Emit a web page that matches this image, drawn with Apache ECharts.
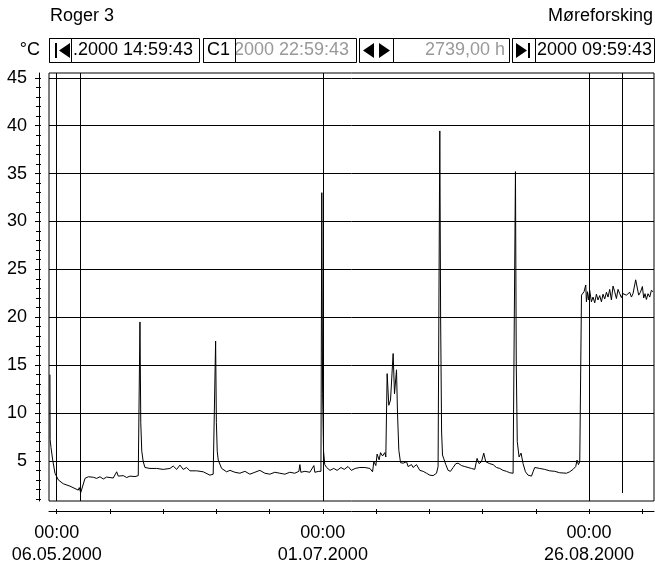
<!DOCTYPE html>
<html><head><meta charset="utf-8">
<script src="https://cdn.jsdelivr.net/npm/echarts@6/dist/echarts.min.js"></script>
<style>html,body{margin:0;padding:0;background:#fff}#c{width:655px;height:567px}</style>
</head><body><div id="c"></div>
<script>
// x values: days since 06.05.2000 00:00 ; y values: temperature in °C
const days = [
  -1.42, -1.38, -1.20, -0.84, -0.36, 0.34, 1.39, 2.80, 3.85, 4.54,
  4.75, 5.05, 5.26, 5.95, 6.65, 7.70, 8.41, 9.11, 9.80, 10.5,
  11.21, 11.90, 12.62, 12.95, 14.01, 14.72, 15.42, 16.47, 17.16, 17.41,
  17.52, 17.69, 17.90, 18.21, 18.57, 19.63, 21.03, 22.42, 23.83, 24.52,
  25.24, 25.93, 26.62, 27.34, 28.03, 29.44, 30.83, 32.24, 32.93, 33.29,
  33.44, 33.60, 33.78, 33.99, 34.70, 35.75, 36.45, 37.5, 38.55, 39.6,
  40.65, 41.7, 42.75, 43.8, 44.85, 45.9, 46.95, 48.0, 49.05, 50.1,
  50.96, 51.17, 51.38, 52.22, 53.27, 54.11, 54.32, 55.16, 55.6, 55.78,
  55.95, 56.15, 56.4, 56.8, 57.5, 58.3, 59.0, 59.8, 60.5, 61.3,
  62.0, 62.8, 63.79, 64.84, 65.89, 66.46, 66.73, 67.15, 67.42, 67.84,
  68.14, 68.56, 69.04, 69.25, 69.53, 69.88, 70.24, 70.79, 71.08, 71.50,
  71.71, 71.99, 72.35, 72.56, 72.89, 73.61, 73.94, 74.66, 74.99, 75.71,
  76.40, 77.10, 77.81, 78.51, 79.20, 79.92, 80.25, 80.61, 80.78, 80.99,
  81.18, 81.46, 81.87, 82.36, 82.86, 83.41, 83.98, 84.46, 85.17, 85.87,
  86.56, 87.28, 87.97, 88.45, 88.88, 89.38, 89.86, 90.28, 91.12, 91.82,
  92.53, 93.23, 93.92, 94.64, 95.33, 96.03, 96.43, 96.53, 96.70, 96.91,
  97.29, 97.71, 98.13, 98.63, 99.18, 99.90, 100.23, 100.59, 101.64, 102.69,
  103.74, 104.79, 105.84, 107.25, 107.94, 108.64, 109.21, 109.48, 109.78, 110.06,
  110.33, 110.42, 110.75, 110.96, 111.32, 111.46, 111.67, 111.88, 112.15, 112.51,
  112.85, 113.21, 113.56, 113.90, 114.26, 114.62, 114.95, 115.31, 115.67, 116.01,
  116.36, 116.72, 117.06, 117.41, 117.77, 118.11, 118.47, 118.82, 119.16, 119.52,
  119.88, 120.57, 120.93, 121.26, 121.83, 122.10, 122.46, 122.82, 123.24, 123.51,
  123.79, 124.08, 124.42, 124.78, 125.13, 125.47
];
const temps = [
  14.0, 7.2, 6.4, 5.07, 3.7, 3.0, 2.6, 2.35, 2.1, 1.94,
  2.2, 1.66, 1.6, 3.16, 3.33, 3.28, 3.16, 3.33, 3.1, 3.3,
  3.25, 3.2, 3.85, 3.4, 3.45, 3.25, 3.4, 3.35, 3.45, 3.5,
  19.5, 9.0, 6.0, 4.9, 4.3, 4.2, 4.2, 4.1, 4.2, 4.45,
  4.1, 4.55, 4.1, 4.3, 3.95, 3.95, 3.85, 3.5, 3.6, 3.4,
  17.5, 9.0, 6.0, 5.07, 4.2, 3.85, 4.0, 3.8, 3.7, 3.9,
  3.6, 3.8, 4.0, 3.7, 3.6, 3.8, 3.7, 3.6, 3.8, 3.7,
  3.9, 4.6, 3.8, 3.9, 3.8, 4.5, 3.8, 3.9, 3.9, 33.0,
  12.0, 6.0, 4.6, 4.3, 4.0, 4.2, 4.0, 4.3, 4.1, 4.4,
  4.0, 4.2, 4.3, 4.3, 4.2, 3.85, 4.9, 4.5, 5.7, 5.1,
  5.85, 5.5, 5.85, 5.4, 14.1, 10.8, 11.35, 16.2, 12.0, 14.5,
  9.95, 6.1, 4.8, 4.6, 4.75, 4.9, 4.4, 4.6, 4.3, 4.6,
  4.0, 3.9, 3.7, 3.5, 3.45, 3.7, 4.4, 39.45, 20.0, 8.0,
  5.6, 5.2, 4.6, 4.0, 3.9, 4.3, 4.7, 4.75, 4.5, 4.4,
  4.3, 4.2, 4.1, 5.25, 4.7, 4.9, 5.8, 4.9, 4.7, 4.6,
  4.3, 4.2, 4.0, 3.9, 3.75, 3.7, 3.6, 35.2, 15.0, 7.0,
  5.4, 5.8, 4.7, 3.85, 3.5, 3.4, 3.85, 4.3, 4.2, 4.1,
  3.95, 3.9, 3.75, 3.7, 3.85, 4.1, 4.4, 5.07, 4.6, 4.9,
  4.7, 22.3, 22.4, 22.66, 23.36, 21.6, 22.66, 21.8, 22.8, 21.6,
  22.1, 21.5, 22.4, 21.8, 22.25, 21.6, 22.4, 21.9, 22.6, 22.1,
  22.9, 21.8, 23.25, 22.66, 21.95, 22.9, 22.45, 22.05, 22.45, 22.6,
  22.3, 22.6, 22.1, 22.45, 23.9, 23.8, 22.3, 22.6, 23.2, 22.0,
  22.45, 21.85, 22.45, 22.1, 22.8, 22.66
];
const xLabelDays = [0, 56, 112];
const xLabels = ['00:00\n06.05.2000', '00:00\n01.07.2000', '00:00\n26.08.2000'];
const xTickDays = [0, 11.2, 22.4, 33.6, 44.8, 56, 67.2, 78.4, 89.6, 100.8, 112, 123.2];
const yMajor = [5, 10, 15, 20, 25, 30, 35, 40, 45];
const yMinor = [1, 2, 3, 4, 6, 7, 8, 9, 11, 12, 13, 14, 16, 17, 18, 19, 21, 22, 23, 24,
  26, 27, 28, 29, 31, 32, 33, 34, 36, 37, 38, 39, 41, 42, 43, 44];
const cursorDays = [5.05, 119.03];
const cursorTexts = ['.2000 14:59:43', '2000 22:59:43', '2739,00 h', '2000 09:59:43'];

const xMin = -1.62, xMax = 125.68, yMin = 0.8, yMax = 45.5;
const FF = '"Liberation Sans", Arial, sans-serif';
const chart = echarts.init(document.getElementById('c'), null, {renderer: 'canvas'});

const yAll = yMajor.concat(yMinor);
const black = '#000';
function tri(points) {
  return {type: 'polygon', z: 13, shape: {points: points}, style: {fill: black}};
}
const rowY = 50.5;
const noLine = {show: false, onZero: false};
const option = {
  animation: false,
  backgroundColor: '#fff',
  grid: {left: 49, right: 1, top: 73, bottom: 66, show: true, borderColor: black, borderWidth: 1, backgroundColor: 'transparent'},
  xAxis: [
    {type: 'value', min: xMin, max: xMax, position: 'bottom', offset: 10,
     axisLine: {show: true, onZero: false, lineStyle: {color: black, width: 1}},
     axisTick: {show: true, customValues: xTickDays, length: 3, lineStyle: {color: black}},
     axisLabel: {show: true, customValues: xLabelDays, formatter: v => xLabels[xLabelDays.indexOf(v)] || '',
       fontSize: 18, fontFamily: FF, color: black, lineHeight: 22, margin: 11},
     splitLine: {show: false}},
    {type: 'value', min: xMin, max: xMax, position: 'bottom', offset: 10,
     axisLine: noLine, axisLabel: {show: false}, splitLine: {show: false},
     axisTick: {show: true, inside: true, customValues: xTickDays, length: 2, lineStyle: {color: black}}}
  ],
  yAxis: [
    {type: 'value', min: yMin, max: yMax, position: 'left', offset: 10,
     axisLine: {show: true, onZero: false, lineStyle: {color: black, width: 1}},
     axisTick: {show: true, customValues: yMajor, length: 4, lineStyle: {color: black}},
     axisLabel: {show: true, customValues: yMajor, fontSize: 18, fontFamily: FF, color: black, margin: 12},
     splitLine: {show: false}},
    {type: 'value', min: yMin, max: yMax, position: 'left', offset: 10,
     axisLine: noLine, axisLabel: {show: false}, splitLine: {show: false},
     axisTick: {show: true, customValues: yMinor, length: 3, lineStyle: {color: black}}},
    {type: 'value', min: yMin, max: yMax, position: 'left', offset: 10,
     axisLine: noLine, axisLabel: {show: false}, splitLine: {show: false},
     axisTick: {show: true, inside: true, customValues: yAll, length: 2, lineStyle: {color: black}}}
  ],
  series: [{
    type: 'line', xAxisIndex: 0, yAxisIndex: 0,
    data: days.map((d, i) => [d, temps[i]]),
    symbol: 'none', showSymbol: false, clip: true,
    lineStyle: {color: black, width: 1},
    emphasis: {disabled: true},
    markLine: {
      silent: true, symbol: ['none', 'none'], label: {show: false}, animation: false,
      lineStyle: {color: black, width: 1, type: 'solid'},
      emphasis: {disabled: true},
      data: [].concat(
        yMajor.map(v => ({yAxis: v})),
        xLabelDays.map(v => ({xAxis: v})),
        [{xAxis: cursorDays[0]}],
        [[{coord: [cursorDays[1], 1.63]}, {coord: [cursorDays[1], yMax]}]]
      )
    }
  }],
  graphic: [
    {type: 'text', x: 50, y: 16, z: 11, style: {text: 'Roger 3', font: '18px ' + FF, fill: black, verticalAlign: 'middle'}},
    {type: 'text', x: 653, y: 16, z: 11, style: {text: 'Møreforsking', font: '18px ' + FF, fill: black, align: 'right', verticalAlign: 'middle'}},
    {type: 'text', x: 40, y: rowY, z: 11, style: {text: '°C', font: '18px ' + FF, fill: black, align: 'right', verticalAlign: 'middle'}},
    {type: 'rect', z: 10, shape: {x: 49.5, y: 38.5, width: 150, height: 24}, style: {fill: '#fff', stroke: black, lineWidth: 1}},
    {type: 'rect', z: 10, shape: {x: 203.5, y: 38.5, width: 153, height: 24}, style: {fill: '#fff', stroke: black, lineWidth: 1}},
    {type: 'rect', z: 10, shape: {x: 359.5, y: 38.5, width: 150, height: 24}, style: {fill: '#fff', stroke: black, lineWidth: 1}},
    {type: 'rect', z: 10, shape: {x: 512.5, y: 38.5, width: 142, height: 24}, style: {fill: '#fff', stroke: black, lineWidth: 1}},
    {type: 'text', x: 73, y: rowY, z: 11, style: {text: cursorTexts[0], font: '18px ' + FF, fill: black, verticalAlign: 'middle'}},
    {type: 'text', x: 349, y: rowY, z: 11, style: {text: cursorTexts[1], font: '18px ' + FF, fill: '#999', align: 'right', verticalAlign: 'middle'}},
    {type: 'text', x: 505, y: rowY, z: 11, style: {text: cursorTexts[2], font: '18px ' + FF, fill: '#999', align: 'right', verticalAlign: 'middle'}},
    {type: 'text', x: 652, y: rowY, z: 11, style: {text: cursorTexts[3], font: '18px ' + FF, fill: black, align: 'right', verticalAlign: 'middle'}},
    {type: 'rect', z: 12, shape: {x: 49.5, y: 38.5, width: 22, height: 24}, style: {fill: '#fff', stroke: black, lineWidth: 1}},
    {type: 'rect', z: 12, shape: {x: 203.5, y: 38.5, width: 32, height: 24}, style: {fill: '#fff', stroke: black, lineWidth: 1}},
    {type: 'rect', z: 12, shape: {x: 359.5, y: 38.5, width: 34, height: 24}, style: {fill: '#fff', stroke: black, lineWidth: 1}},
    {type: 'rect', z: 12, shape: {x: 512.5, y: 38.5, width: 23, height: 24}, style: {fill: '#fff', stroke: black, lineWidth: 1}},
    {type: 'rect', z: 13, shape: {x: 55, y: 43, width: 2, height: 15}, style: {fill: black}},
    tri([[59, 50.5], [70, 43], [70, 58]]),
    {type: 'text', x: 207, y: rowY, z: 13, style: {text: 'C1', font: '18px ' + FF, fill: black, verticalAlign: 'middle'}},
    tri([[363, 50.5], [374, 43], [374, 58]]),
    tri([[379, 43], [379, 58], [390, 50.5]]),
    tri([[516, 43], [516, 58], [527, 50.5]]),
    {type: 'rect', z: 13, shape: {x: 528, y: 43, width: 2, height: 15}, style: {fill: black}}
  ]
};
chart.setOption(option);
</script>
</body></html>
